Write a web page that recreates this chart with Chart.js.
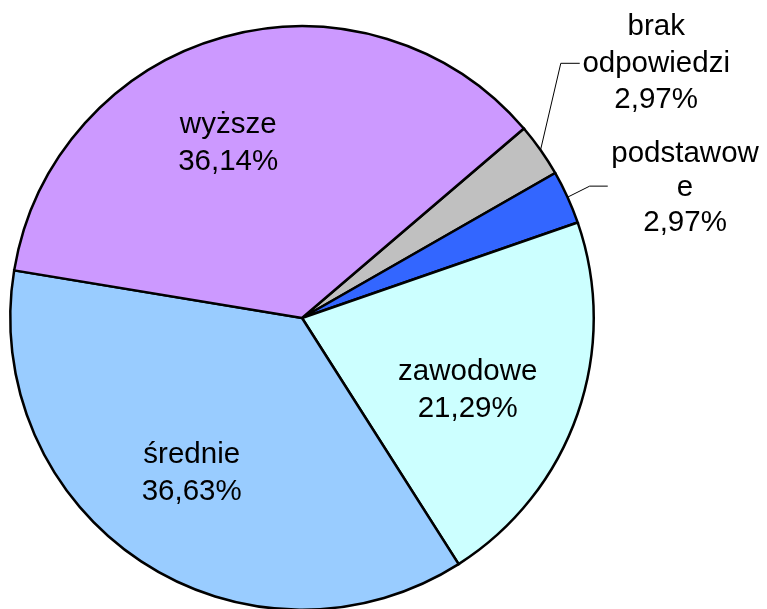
<!DOCTYPE html>
<html>
<head>
<meta charset="utf-8">
<script src="https://cdn.jsdelivr.net/npm/chart.js@4"></script>
<style>
html,body{margin:0;padding:0;background:#fff;overflow:hidden;}
#wrap{position:relative;width:767px;height:620px;}
</style>
</head>
<body>
<div id="wrap"><canvas id="c"></canvas></div>
<script>
// ---- data ----
const categories = ["brak odpowiedzi", "podstawowe", "zawodowe", "średnie", "wyższe"];
const values = [2.97, 2.97, 21.29, 36.63, 36.14];
const valueLabels = ["2,97%", "2,97%", "21,29%", "36,63%", "36,14%"];

// ---- style (positions relative to pie centre, in radius units) ----
const colors = ["#C0C0C0", "#3366FF", "#CCFFFF", "#99CCFF", "#CC99FF"];
const labelStyle = [
  {dx: 1.214, dy: -0.969, lh: 36.5, maxW: 152, leader: [[0.887, -0.873], [0.952, -0.873]]},
  {dx: 1.313, dy: -0.535, lh: 34.5, maxW: 152, leader: [[0.986, -0.452], [1.048, -0.452]]},
  {dx: 0.568, dy: 0.212, lh: 37, maxW: 999},
  {dx: -0.378, dy: 0.498, lh: 37, maxW: 999},
  {dx: -0.253, dy: -0.633, lh: 37, maxW: 999}
];
const FONT = '29.5px "Liberation Sans", Arial, sans-serif';

function wrapText(ctx, text, maxW) {
  const words = text.split(' ');
  const lines = [];
  let cur = '';
  for (const w of words) {
    const t = cur ? cur + ' ' + w : w;
    if (ctx.measureText(t).width <= maxW) { cur = t; continue; }
    if (cur) lines.push(cur);
    cur = w;
    while (ctx.measureText(cur).width > maxW) {
      let i = cur.length;
      while (i > 1 && ctx.measureText(cur.slice(0, i)).width > maxW) i--;
      lines.push(cur.slice(0, i));
      cur = cur.slice(i);
    }
  }
  if (cur) lines.push(cur);
  return lines;
}

const labelPlugin = {
  id: 'pieLabels',
  afterDatasetsDraw(chart) {
    const ctx = chart.ctx;
    const meta = chart.getDatasetMeta(0);
    ctx.save();
    ctx.font = FONT;
    ctx.fillStyle = '#000';
    ctx.textAlign = 'center';
    ctx.textBaseline = 'alphabetic';
    meta.data.forEach((arc, i) => {
      const p = arc.getProps(['x', 'y', 'startAngle', 'endAngle', 'outerRadius'], true);
      const R = p.outerRadius;
      const st = labelStyle[i];
      if (st.leader) {
        const mid = (p.startAngle + p.endAngle) / 2;
        ctx.beginPath();
        ctx.strokeStyle = '#000';
        ctx.lineWidth = 1;
        ctx.moveTo(p.x + Math.cos(mid) * R, p.y + Math.sin(mid) * R);
        st.leader.forEach(pt => ctx.lineTo(p.x + pt[0] * R, p.y + pt[1] * R));
        ctx.stroke();
      }
      const lines = wrapText(ctx, categories[i], st.maxW).concat([valueLabels[i]]);
      const x = p.x + st.dx * R, y0 = p.y + st.dy * R;
      lines.forEach((ln, k) => ctx.fillText(ln, x, y0 + k * st.lh));
    });
    ctx.restore();
  }
};

new Chart(document.getElementById('c'), {
  type: 'pie',
  data: {
    labels: categories,
    datasets: [{
      data: values,
      backgroundColor: colors,
      borderColor: '#000',
      borderWidth: 2.5,
      borderJoinStyle: 'miter'
    }]
  },
  options: {
    responsive: true,
    maintainAspectRatio: false,
    animation: false,
    rotation: 49.5,
    layout: {padding: {left: 9, right: 172, top: 25, bottom: 9}},
    plugins: {legend: {display: false}, tooltip: {enabled: false}}
  },
  plugins: [labelPlugin]
});
</script>
</body>
</html>
